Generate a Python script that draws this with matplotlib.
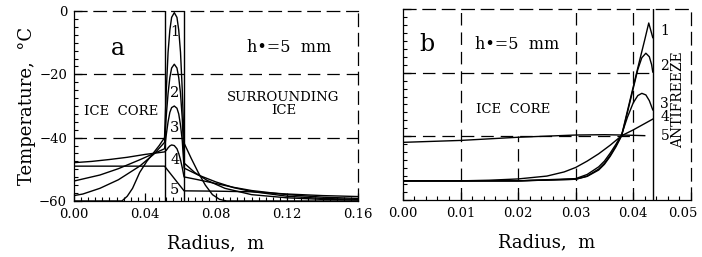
import matplotlib
matplotlib.use("Agg")
import matplotlib.pyplot as plt
import matplotlib.transforms as mtransforms
from matplotlib.ticker import MultipleLocator

plt.rcParams['font.family'] = ['DejaVu Serif']
plt.rcParams['lines.scale_dashes'] = False

DASH = (0, (9, 5))

# ---- panel a: radius (m) and temperature (C) for curves 1..5 ----
layer_in, layer_out = 0.051, 0.062

a1_x = [0.000, 0.020, 0.027, 0.030, 0.033, 0.037, 0.041, 0.0445, 0.048, 0.051,
        0.052, 0.053, 0.054, 0.055, 0.0565, 0.058, 0.059, 0.060, 0.061, 0.062,
        0.066, 0.070, 0.074, 0.078, 0.082, 0.086, 0.160]
a1_t = [-60.0, -60.0, -60.0, -58.5, -56.0, -51.0, -47.5, -45.0, -42.5, -40.0,
        -25.0, -13.0, -6.0, -2.0, -0.5, -2.0, -6.0, -13.0, -25.0, -41.7,
        -46.5, -51.0, -55.0, -58.0, -59.5, -60.0, -60.0]

a2_x = [0.000, 0.005, 0.0146, 0.025, 0.037, 0.045, 0.051,
        0.052, 0.053, 0.054, 0.055, 0.0565, 0.058, 0.059, 0.060, 0.061, 0.062,
        0.068, 0.075, 0.085, 0.100, 0.120, 0.140, 0.160]
a2_t = [-58.3, -57.8, -56.0, -53.3, -49.0, -45.2, -41.5,
        -33.0, -26.0, -21.0, -18.0, -16.8, -18.0, -21.0, -26.0, -34.0, -48.0,
        -51.0, -53.5, -56.0, -58.0, -59.0, -59.5, -59.7]

a3_x = [0.000, 0.0146, 0.025, 0.037, 0.045, 0.051,
        0.052, 0.053, 0.054, 0.055, 0.0565, 0.058, 0.059, 0.060, 0.061, 0.062,
        0.070, 0.080, 0.090, 0.100, 0.120, 0.140, 0.160]
a3_t = [-53.7, -51.8, -49.8, -47.0, -45.0, -43.5,
        -39.0, -35.0, -32.0, -30.5, -30.0, -30.7, -32.5, -36.0, -41.0, -49.6,
        -51.8, -54.0, -55.8, -57.0, -58.5, -59.2, -59.5]

a4_x = [0.000, 0.010, 0.020, 0.030, 0.040, 0.051,
        0.052, 0.053, 0.054, 0.055, 0.0565, 0.058, 0.059, 0.060, 0.061, 0.062,
        0.070, 0.080, 0.090, 0.100, 0.120, 0.140, 0.160]
a4_t = [-47.9, -47.5, -46.9, -46.2, -45.3, -44.5,
        -44.0, -43.2, -42.6, -42.3, -42.5, -43.5, -45.0, -47.0, -49.5, -52.4,
        -53.3, -54.5, -55.7, -56.7, -58.0, -58.8, -59.2]

a5_x = [0.000, 0.051, 0.062, 0.080, 0.100, 0.120, 0.140, 0.160]
a5_t = [-49.0, -49.0, -56.8, -56.9, -57.1, -57.8, -58.3, -58.6]

# ---- panel b ----
b_wall = 0.0434

b1_x = [0.000, 0.010, 0.020, 0.030, 0.032, 0.034, 0.035, 0.036, 0.037, 0.038,
        0.039, 0.040, 0.041, 0.042, 0.0427, 0.0434]
b1_t = [-54.0, -54.0, -54.0, -53.5, -52.5, -50.3, -48.5, -46.0, -43.0, -39.6,
        -32.0, -24.5, -17.0, -9.7, -4.4, -9.0]

b2_x = [0.000, 0.010, 0.020, 0.030, 0.032, 0.034, 0.035, 0.036, 0.037, 0.038,
        0.039, 0.040, 0.0408, 0.0415, 0.0422, 0.0428, 0.0432, 0.0434]
b2_t = [-54.0, -54.0, -54.0, -53.5, -52.6, -50.6, -48.8, -46.3, -43.3, -39.8,
        -32.5, -25.0, -19.0, -15.3, -13.9, -15.0, -17.5, -19.8]

b3_x = [0.000, 0.010, 0.020, 0.030, 0.032, 0.034, 0.035, 0.036, 0.037, 0.038,
        0.039, 0.040, 0.0408, 0.0415, 0.0422, 0.0428, 0.0434]
b3_t = [-54.0, -54.0, -54.0, -53.3, -52.0, -49.6, -47.8, -45.3, -42.5, -39.4,
        -34.0, -29.5, -27.2, -26.5, -27.0, -28.8, -31.7]

b4_x = [0.000, 0.010, 0.015, 0.020, 0.025, 0.028, 0.030, 0.032, 0.034, 0.036,
        0.038, 0.040, 0.042, 0.0434]
b4_t = [-54.0, -54.0, -53.8, -53.4, -52.5, -51.2, -49.8, -47.8, -45.5, -42.8,
        -39.8, -38.0, -36.0, -34.6]

b5_x = [0.000, 0.010, 0.020, 0.030, 0.035, 0.038, 0.042]
b5_t = [-41.9, -41.3, -40.3, -39.6, -39.5, -39.6, -39.8]

fig = plt.figure(figsize=(7.02, 2.57), dpi=100)
axa = fig.add_axes([0.1054, 0.218, 0.4046, 0.739])
axb = fig.add_axes([0.574, 0.222, 0.410, 0.743])

lw = 1.0
for xs, ts in [(a1_x, a1_t), (a2_x, a2_t), (a3_x, a3_t), (a4_x, a4_t), (a5_x, a5_t)]:
    axa.plot(xs, ts, color='black', lw=lw)
for xv in (layer_in, layer_out):
    axa.axvline(xv, color='black', lw=1.0)
for yv in (-20, -40):
    axa.axhline(yv, color='black', lw=0.9, linestyle=DASH)

axa.set_xlim(0, 0.16)
axa.set_ylim(-60, 0)
axa.set_xticks([0.00, 0.04, 0.08, 0.12, 0.16])
axa.set_xticklabels(['0.00', '0.04', '0.08', '0.12', '0.16'])
axa.set_yticks([0, -20, -40, -60])
axa.set_yticklabels(['0', '\u221220', '\u221240', '\u221260'])
axa.xaxis.set_minor_locator(MultipleLocator(0.004))
axa.yaxis.set_minor_locator(MultipleLocator(2.5))
axa.set_xlabel('Radius,  m', fontsize=13, labelpad=10)
axa.set_ylabel('Temperature,  \u00b0C', fontsize=13, labelpad=2)

axa.text(0.025, -11.7, 'a', fontsize=17, ha='center', va='center')
axa.text(0.121, -11.5, 'h\u2022=5  mm', fontsize=11.5, ha='center', va='center')
axa.text(0.0265, -31.8, 'ICE  CORE', fontsize=9.5, ha='center', va='center')
axa.text(0.118, -29.5, 'SURROUNDING\nICE', fontsize=9.5, ha='center', va='center',
         linespacing=1.0)
for lab, yv in zip('12345', (-6.5, -26.0, -37.0, -47.0, -56.5)):
    axa.text(0.0567, yv, lab, fontsize=10.5, ha='center', va='center')

# panel b
for xs, ts in [(b1_x, b1_t), (b2_x, b2_t), (b3_x, b3_t), (b4_x, b4_t), (b5_x, b5_t)]:
    axb.plot(xs, ts, color='black', lw=lw)
axb.axvline(b_wall, color='black', lw=1.0)
for xv in (0.01, 0.03, 0.04):
    axb.axvline(xv, color='black', lw=0.9, linestyle=DASH)
axb.plot([0.02, 0.02], [-60, -40], color='black', lw=0.9, linestyle=DASH)
axb.plot([0.0, b_wall], [-20, -20], color='black', lw=0.9, linestyle=DASH)
axb.plot([0.0, 0.0405], [-40, -40], color='black', lw=0.9, linestyle=DASH)

axb.set_xlim(0, 0.05)
axb.set_ylim(-60, 0)
axb.set_xticks([0.00, 0.01, 0.02, 0.03, 0.04, 0.05])
axb.set_xticklabels(['0.00', '0.01', '0.02', '0.03', '0.04', '0.05'])
axb.set_yticks([0, -20, -40, -60])
axb.set_yticklabels([])
axb.xaxis.set_minor_locator(MultipleLocator(0.002))
axb.yaxis.set_minor_locator(MultipleLocator(2.5))
axb.set_xlabel('Radius,  m', fontsize=13, labelpad=10)

axb.text(0.0042, -11.0, 'b', fontsize=17, ha='center', va='center')
axb.text(0.0198, -11.0, 'h\u2022=5  mm', fontsize=11.5, ha='center', va='center')
axb.text(0.0192, -31.7, 'ICE  CORE', fontsize=9.5, ha='center', va='center')
axb.text(0.0478, -28.5, 'ANTIFREEZE', fontsize=10, ha='center', va='center',
         rotation=90)
for lab, yv in zip('12345', (-7.0, -18.0, -30.0, -34.0, -40.0)):
    axb.text(0.0455, yv, lab, fontsize=10, ha='center', va='center')

for ax in (axa, axb):
    ax.spines['top'].set_linestyle(DASH)
    ax.spines['right'].set_linestyle(DASH)
    for s in ax.spines.values():
        s.set_linewidth(0.9)
    ax.tick_params(which='both', direction='in', top=False, right=False,
                   labelsize=9.5, pad=5)
    ax.tick_params(which='major', length=6, width=0.9)
    ax.tick_params(which='minor', length=3, width=0.8)

# nudge the last tick label of panel b left so it stays inside the figure
last = axb.get_xticklabels()[-1]
last.set_transform(last.get_transform() +
                   mtransforms.ScaledTranslation(-6 / 72, 0, fig.dpi_scale_trans))

fig.savefig('out.png', dpi=100)
